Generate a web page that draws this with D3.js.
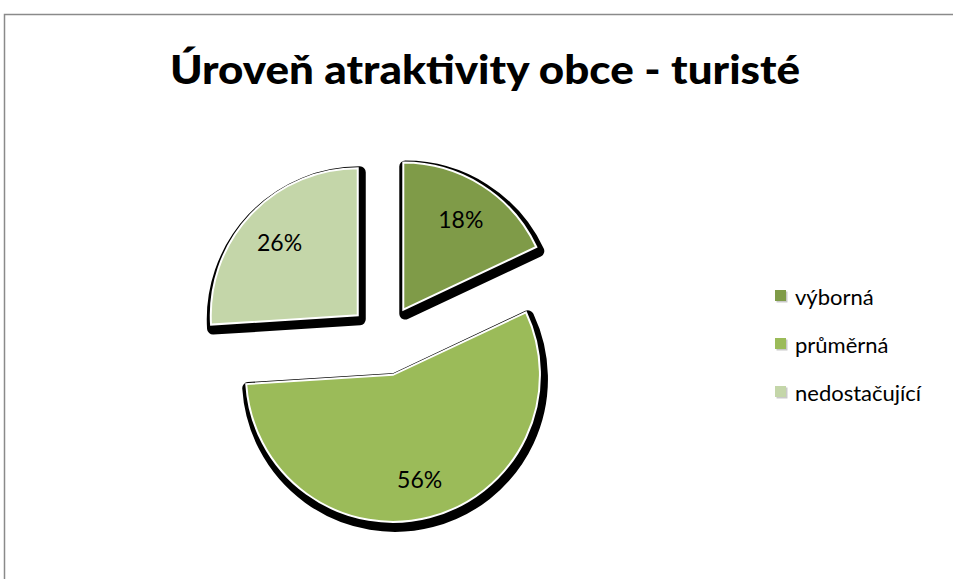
<!DOCTYPE html>
<html><head><meta charset="utf-8">
<script src="https://cdn.jsdelivr.net/npm/d3@7"></script>
<style>html,body{margin:0;padding:0;background:#fff;}svg{display:block;}</style>
</head><body>
<svg id="chart" width="953" height="579"></svg>
<script>
const title = "Úroveň atraktivity obce - turisté";
const categories = ["výborná", "průměrná", "nedostačující"];
const values = [18, 56, 26];
const colors = ["#7F9B48", "#9BBB59", "#C4D6A9"];

const svg = d3.select("#chart");

// outer frame
svg.append("rect").attr("x", 4.5).attr("y", 14.5).attr("width", 1000).attr("height", 700)
  .attr("fill", "#fff").attr("stroke", "#8a8a8a").attr("stroke-width", 1.5);

svg.append("text").attr("x", 485).attr("y", 84).attr("text-anchor", "middle")
  .attr("font-family", "Lato, 'Open Sans', sans-serif").attr("font-weight", 900)
  .attr("font-size", 40).attr("textLength", 630).attr("lengthAdjust", "spacingAndGlyphs")
  .attr("fill", "#000").text(title);

const cx = 384, cy = 340, r = 147, explode = 36;
const pie = d3.pie().sort(null).value(d => d)(values);
const arc = d3.arc().innerRadius(0).outerRadius(r);
const labelArc = d3.arc().innerRadius(r * 0.73).outerRadius(r * 0.73);

const g = svg.append("g").attr("transform", `translate(${cx},${cy})`);
const slices = g.selectAll("g.slice").data(pie).join("g").attr("class", "slice")
  .attr("transform", d => {
    const a = (d.startAngle + d.endAngle) / 2;
    return `translate(${explode * Math.sin(a)},${-explode * Math.cos(a)})`;
  });

// shadow
slices.append("path").attr("d", arc).attr("transform", "translate(2,4)")
  .attr("fill", "#000").attr("stroke", "#000").attr("stroke-width", 12).attr("stroke-linejoin", "round");
// slice
slices.append("path").attr("d", arc).attr("fill", (d, i) => colors[i])
  .attr("stroke", "#fff").attr("stroke-width", 2).attr("stroke-linejoin", "miter");
// labels
slices.append("text").attr("transform", d => `translate(${labelArc.centroid(d)})`)
  .attr("text-anchor", "middle").attr("dominant-baseline", "central")
  .attr("font-family", "Lato, 'Open Sans', sans-serif").attr("font-size", 23).attr("fill", "#000")
  .text(d => d.data + "%");

// legend
const legend = svg.append("g").attr("transform", "translate(775,296)");
const items = legend.selectAll("g").data(categories).join("g")
  .attr("transform", (d, i) => `translate(0,${i * 48})`);
items.append("rect").attr("x", 1.5).attr("y", -4.5).attr("width", 11).attr("height", 11).attr("fill", "#c9c9c9");
items.append("rect").attr("x", 0).attr("y", -6).attr("width", 11).attr("height", 11).attr("fill", (d, i) => colors[i]);
items.append("text").attr("x", 20).attr("y", 0).attr("dominant-baseline", "central")
  .attr("font-family", "Lato, 'Open Sans', sans-serif").attr("font-size", 22).attr("fill", "#000")
  .text(d => d);
</script>
</body></html>
